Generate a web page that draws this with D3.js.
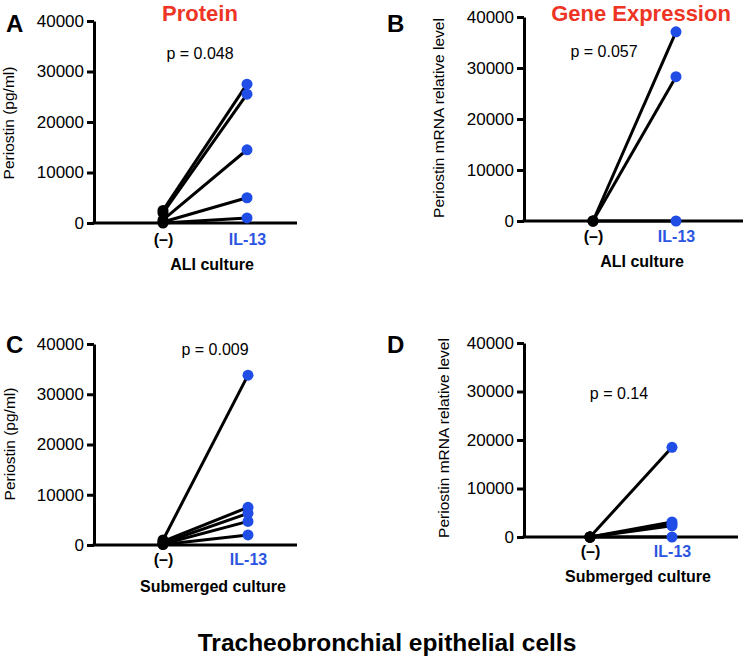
<!DOCTYPE html>
<html>
<head>
<meta charset="utf-8">
<script src="https://cdn.jsdelivr.net/npm/d3@7"></script>
<style>
  html, body { margin: 0; padding: 0; background: #fff; }
  svg { display: block; font-family: "Liberation Sans", Arial, Helvetica, sans-serif; }
</style>
</head>
<body>
<svg id="chart" width="747" height="662"></svg>
<script>
// ---- data ----
const categories = ["(–)", "IL-13"];
const yTicks = [0, 10000, 20000, 30000, 40000];

const proteinALI_ctrl = [2500, 2000, 600, 200, 0];
const proteinALI_il13 = [27500, 25500, 14500, 5000, 1000];

const geneALI_ctrl = [0, 0, 0];
const geneALI_il13 = [37100, 28300, 0];

const proteinSub_ctrl = [1000, 700, 400, 200, 100];
const proteinSub_il13 = [33800, 7500, 6300, 4700, 2000];

const geneSub_ctrl = [0, 0, 0, 0, 0];
const geneSub_il13 = [18500, 3100, 2700, 2300, 0];

const panelLetters = ["A", "B", "C", "D"];
const pValues = ["p = 0.048", "p = 0.057", "p = 0.009", "p = 0.14"];
const yTitles = ["Periostin (pg/ml)", "Periostin mRNA relative level", "Periostin (pg/ml)", "Periostin mRNA relative level"];
const xTitles = ["ALI culture", "ALI culture", "Submerged culture", "Submerged culture"];
const columnTitles = ["Protein", "Gene Expression"];
const bottomTitle = "Tracheobronchial epithelial cells";

// ---- layout ----
const RED = "#ee3424";
const BLUE = "#1f4de6";
const BLUE_TXT = "#2b55e2";

const svg = d3.select("#chart");

const panels = [
  { ctrl: proteinALI_ctrl, il13: proteinALI_il13, ax: 94, y0: 223, yTop: 21, xEnd: 297, c0: 163, c1: 247,
    letter: [6, 32], p: [200, 59], yt: [14, 123], xt: [212, 270], catDy: 22 },
  { ctrl: geneALI_ctrl, il13: geneALI_il13, ax: 524, y0: 221, yTop: 17, xEnd: 743, c0: 593, c1: 676,
    letter: [387, 32], p: [604, 57], yt: [444, 118], xt: [642, 267], catDy: 21 },
  { ctrl: proteinSub_ctrl, il13: proteinSub_il13, ax: 94, y0: 545, yTop: 344, xEnd: 297, c0: 163, c1: 248,
    letter: [6, 353], p: [215, 355], yt: [15, 444], xt: [213, 592], catDy: 20 },
  { ctrl: geneSub_ctrl, il13: geneSub_il13, ax: 524, y0: 537, yTop: 343, xEnd: 738, c0: 590, c1: 672,
    letter: [387, 353], p: [619, 399], yt: [449, 438], xt: [638, 582], catDy: 20 }
];

panels.forEach((P, i) => {
  const g = svg.append("g");
  const y = d3.scaleLinear().domain([0, 40000]).range([P.y0, P.yTop]);
  const x = d3.scalePoint().domain(categories).range([P.c0, P.c1]);

  // y axis
  const yAxis = g.append("g")
    .attr("transform", `translate(${P.ax},0)`)
    .call(d3.axisLeft(y).tickValues(yTicks).tickSize(7).tickSizeOuter(0).tickFormat(d3.format("d")));
  yAxis.select(".domain").attr("stroke", "#000").attr("stroke-width", 3);
  yAxis.selectAll(".tick line").attr("stroke", "#000").attr("stroke-width", 3);
  yAxis.selectAll(".tick text").attr("font-size", 17).attr("fill", "#000")
    .attr("font-family", "Liberation Sans, Arial, sans-serif");

  // x axis
  const xAxis = g.append("g")
    .attr("transform", `translate(0,${P.y0})`)
    .call(d3.axisBottom(x).tickSize(0).tickPadding(0));
  xAxis.select(".domain").remove();
  g.append("line")
    .attr("x1", P.ax - 1.5).attr("x2", P.xEnd)
    .attr("y1", P.y0).attr("y2", P.y0)
    .attr("stroke", "#000").attr("stroke-width", 3);
  xAxis.selectAll(".tick text")
    .attr("dy", null)
    .attr("y", P.catDy)
    .attr("font-size", 16).attr("font-weight", "bold")
    .attr("font-family", "Liberation Sans, Arial, sans-serif")
    .attr("fill", d => d === "IL-13" ? BLUE_TXT : "#000");

  // pair lines
  const pairs = P.ctrl.map((v, k) => [v, P.il13[k]]);
  g.selectAll("line.pair").data(pairs).enter().append("line")
    .attr("class", "pair")
    .attr("x1", x(categories[0])).attr("y1", d => y(d[0]))
    .attr("x2", x(categories[1])).attr("y2", d => y(d[1]))
    .attr("stroke", "#000").attr("stroke-width", 3);

  // dots
  g.selectAll("circle.c0").data(P.ctrl).enter().append("circle")
    .attr("cx", x(categories[0])).attr("cy", d => y(d)).attr("r", 5.5).attr("fill", "#000");
  g.selectAll("circle.c1").data(P.il13).enter().append("circle")
    .attr("cx", x(categories[1])).attr("cy", d => y(d)).attr("r", 5.5).attr("fill", BLUE);

  // texts
  g.append("text").attr("x", P.letter[0]).attr("y", P.letter[1])
    .attr("font-size", 24).attr("font-weight", "bold").text(panelLetters[i]);
  g.append("text").attr("x", P.p[0]).attr("y", P.p[1]).attr("text-anchor", "middle")
    .attr("font-size", 16).text(pValues[i]);
  g.append("text")
    .attr("transform", `translate(${P.yt[0]},${P.yt[1]}) rotate(-90)`)
    .attr("text-anchor", "middle").attr("font-size", 15.5).text(yTitles[i]);
  g.append("text").attr("x", P.xt[0]).attr("y", P.xt[1]).attr("text-anchor", "middle")
    .attr("font-size", 16).attr("font-weight", "bold").text(xTitles[i]);
});

// column titles
svg.append("text").attr("x", 200).attr("y", 21).attr("text-anchor", "middle")
  .attr("font-size", 22).attr("font-weight", "bold").attr("fill", RED).text(columnTitles[0]);
svg.append("text").attr("x", 641).attr("y", 21).attr("text-anchor", "middle")
  .attr("font-size", 22).attr("font-weight", "bold").attr("fill", RED).text(columnTitles[1]);

// bottom title
svg.append("text").attr("x", 387).attr("y", 651).attr("text-anchor", "middle")
  .attr("font-size", 24.5).attr("font-weight", "bold").text(bottomTitle);
</script>
</body>
</html>
